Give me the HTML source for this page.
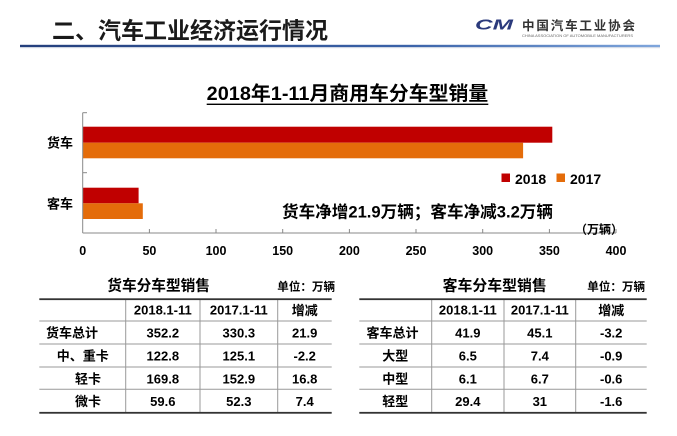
<!DOCTYPE html>
<html>
<head>
<meta charset="utf-8">
<style>
html,body{margin:0;padding:0;background:#fff;}
svg{display:block;}
text{font-family:"Liberation Sans","Noto Sans CJK SC",sans-serif;}
</style>
</head>
<body>
<svg width="677" height="436" viewBox="0 0 677 436" xmlns="http://www.w3.org/2000/svg">
<defs>
<linearGradient id="bl" x1="0" y1="0" x2="1" y2="0">
<stop offset="0" stop-color="#243f7c"/>
<stop offset="0.6" stop-color="#3a62a8"/>
<stop offset="1" stop-color="#7fa6dc"/>
</linearGradient>
</defs>
<rect width="677" height="436" fill="#fff"/>

<!-- Header -->
<text x="52" y="38.7" font-size="23" font-weight="bold" fill="#1a1a1a" textLength="276" lengthAdjust="spacingAndGlyphs">二、汽车工业经济运行情况</text>
<rect x="20" y="44.8" width="640" height="2.4" fill="url(#bl)"/>
<rect x="20" y="47.2" width="640" height="1" fill="#d8dde6"/>

<!-- Logo -->
<text x="475" y="29.5" font-size="15" font-weight="bold" font-style="italic" fill="#2b3a7c" textLength="38" lengthAdjust="spacingAndGlyphs">CM</text>
<text x="522" y="29.8" font-size="12.5" font-weight="bold" fill="#333" textLength="113" lengthAdjust="spacing">中国汽车工业协会</text>
<text x="522" y="37" font-size="3.6" fill="#666" textLength="111" lengthAdjust="spacingAndGlyphs">CHINA ASSOCIATION OF AUTOMOBILE MANUFACTURERS</text>

<!-- Chart title -->
<text x="206.7" y="100" font-size="19.5" font-weight="bold" fill="#000" textLength="281.6" lengthAdjust="spacingAndGlyphs">2018年1-11月商用车分车型销量</text>
<rect x="206.7" y="103.6" width="281.6" height="1.4" fill="#000"/>

<!-- Bars -->
<rect x="82.7" y="126.7" width="469.6" height="16" fill="#c00000"/>
<rect x="82.7" y="142.7" width="440.4" height="15.6" fill="#e46c0a"/>
<rect x="82.7" y="187.7" width="55.9" height="15.6" fill="#c00000"/>
<rect x="82.7" y="203.3" width="60.1" height="15.7" fill="#e46c0a"/>

<!-- Axes -->
<g stroke="#888" stroke-width="1" fill="none">
<line x1="82.7" y1="112.7" x2="82.7" y2="233"/>
<line x1="82.7" y1="233" x2="616" y2="233"/>
<line x1="82.7" y1="112.7" x2="87" y2="112.7"/>
<line x1="82.7" y1="172.7" x2="87" y2="172.7"/>
<line x1="149.4" y1="229" x2="149.4" y2="233"/>
<line x1="216" y1="229" x2="216" y2="233"/>
<line x1="282.7" y1="229" x2="282.7" y2="233"/>
<line x1="349.4" y1="229" x2="349.4" y2="233"/>
<line x1="416" y1="229" x2="416" y2="233"/>
<line x1="482.7" y1="229" x2="482.7" y2="233"/>
<line x1="549.4" y1="229" x2="549.4" y2="233"/>
<line x1="616" y1="229" x2="616" y2="233"/>
</g>
<g font-size="12.5" font-weight="bold" fill="#000" text-anchor="middle">
<text x="82.7" y="255">0</text>
<text x="149.4" y="255">50</text>
<text x="216" y="255">100</text>
<text x="282.7" y="255">150</text>
<text x="349.4" y="255">200</text>
<text x="416" y="255">250</text>
<text x="482.7" y="255">300</text>
<text x="549.4" y="255">350</text>
<text x="616" y="255">400</text>
</g>
<g font-size="13" font-weight="bold" fill="#000">
<text x="47" y="147.3">货车</text>
<text x="47" y="208.3">客车</text>
</g>
<text x="575" y="233.5" font-size="12" font-weight="bold" fill="#000">（万辆）</text>

<!-- Legend -->
<rect x="501.5" y="173.5" width="8.5" height="8.5" fill="#c00000"/>
<text x="515" y="184" font-size="14" font-weight="bold" fill="#000">2018</text>
<rect x="556.5" y="173.5" width="8.5" height="8.5" fill="#e46c0a"/>
<text x="570" y="184" font-size="14" font-weight="bold" fill="#000">2017</text>

<!-- Annotation -->
<text x="282" y="217.5" font-size="16.5" font-weight="bold" fill="#000" textLength="271" lengthAdjust="spacingAndGlyphs">货车净增21.9万辆；客车净减3.2万辆</text>

<!-- Left table -->
<text x="107.3" y="290.7" font-size="14.7" font-weight="bold" fill="#000" textLength="102.7" lengthAdjust="spacingAndGlyphs">货车分车型销售</text>
<text x="277.3" y="290.4" font-size="11.5" font-weight="bold" fill="#000" textLength="57.7" lengthAdjust="spacingAndGlyphs">单位：万辆</text>
<g stroke="#999" stroke-width="1">
<line x1="39.3" y1="321" x2="331.7" y2="321"/>
<line x1="39.3" y1="344" x2="331.7" y2="344"/>
<line x1="39.3" y1="367" x2="331.7" y2="367"/>
<line x1="39.3" y1="389.3" x2="331.7" y2="389.3"/>
<line x1="125.7" y1="299" x2="125.7" y2="412.7"/>
<line x1="200" y1="299" x2="200" y2="412.7"/>
<line x1="277.7" y1="299" x2="277.7" y2="412.7"/>
</g>
<rect x="39.3" y="298.3" width="292.4" height="1.8" fill="#333"/>
<rect x="39.3" y="411.9" width="292.4" height="1.8" fill="#333"/>
<g font-size="13" font-weight="bold" fill="#000" text-anchor="middle">
<text x="162.8" y="314.5">2018.1-11</text>
<text x="238.8" y="314.5">2017.1-11</text>
<text x="304.7" y="315">增减</text>
<text x="162.8" y="337.5">352.2</text>
<text x="238.8" y="337.5">330.3</text>
<text x="304.7" y="337.5">21.9</text>
<text x="162.8" y="360.5">122.8</text>
<text x="238.8" y="360.5">125.1</text>
<text x="304.7" y="360.5">-2.2</text>
<text x="162.8" y="383.5">169.8</text>
<text x="238.8" y="383.5">152.9</text>
<text x="304.7" y="383.5">16.8</text>
<text x="162.8" y="406">59.6</text>
<text x="238.8" y="406">52.3</text>
<text x="304.7" y="406">7.4</text>
</g>
<g font-size="13" font-weight="bold" fill="#000">
<text x="46" y="337.5">货车总计</text>
<text x="56.7" y="360.5">中、重卡</text>
<text x="75" y="383.5">轻卡</text>
<text x="75" y="406">微卡</text>
</g>

<!-- Right table -->
<text x="442.7" y="290.7" font-size="14.7" font-weight="bold" fill="#000" textLength="104" lengthAdjust="spacingAndGlyphs">客车分车型销售</text>
<text x="587.3" y="290.4" font-size="11.5" font-weight="bold" fill="#000" textLength="57.7" lengthAdjust="spacingAndGlyphs">单位：万辆</text>
<g stroke="#999" stroke-width="1">
<line x1="359.3" y1="321" x2="646.7" y2="321"/>
<line x1="359.3" y1="344" x2="646.7" y2="344"/>
<line x1="359.3" y1="367" x2="646.7" y2="367"/>
<line x1="359.3" y1="389.3" x2="646.7" y2="389.3"/>
<line x1="431.7" y1="299" x2="431.7" y2="412.7"/>
<line x1="504" y1="299" x2="504" y2="412.7"/>
<line x1="575.7" y1="299" x2="575.7" y2="412.7"/>
</g>
<rect x="359.3" y="298.3" width="287.4" height="1.8" fill="#333"/>
<rect x="359.3" y="411.9" width="287.4" height="1.8" fill="#333"/>
<g font-size="13" font-weight="bold" fill="#000" text-anchor="middle">
<text x="467.8" y="314.5">2018.1-11</text>
<text x="539.8" y="314.5">2017.1-11</text>
<text x="611.2" y="315">增减</text>
<text x="467.8" y="337.5">41.9</text>
<text x="539.8" y="337.5">45.1</text>
<text x="611.2" y="337.5">-3.2</text>
<text x="467.8" y="360.5">6.5</text>
<text x="539.8" y="360.5">7.4</text>
<text x="611.2" y="360.5">-0.9</text>
<text x="467.8" y="383.5">6.1</text>
<text x="539.8" y="383.5">6.7</text>
<text x="611.2" y="383.5">-0.6</text>
<text x="467.8" y="406">29.4</text>
<text x="539.8" y="406">31</text>
<text x="611.2" y="406">-1.6</text>
<text x="392.5" y="337.5">客车总计</text>
<text x="395.3" y="360.5">大型</text>
<text x="395.3" y="383.5">中型</text>
<text x="395.3" y="406">轻型</text>
</g>
</svg>
</body>
</html>
